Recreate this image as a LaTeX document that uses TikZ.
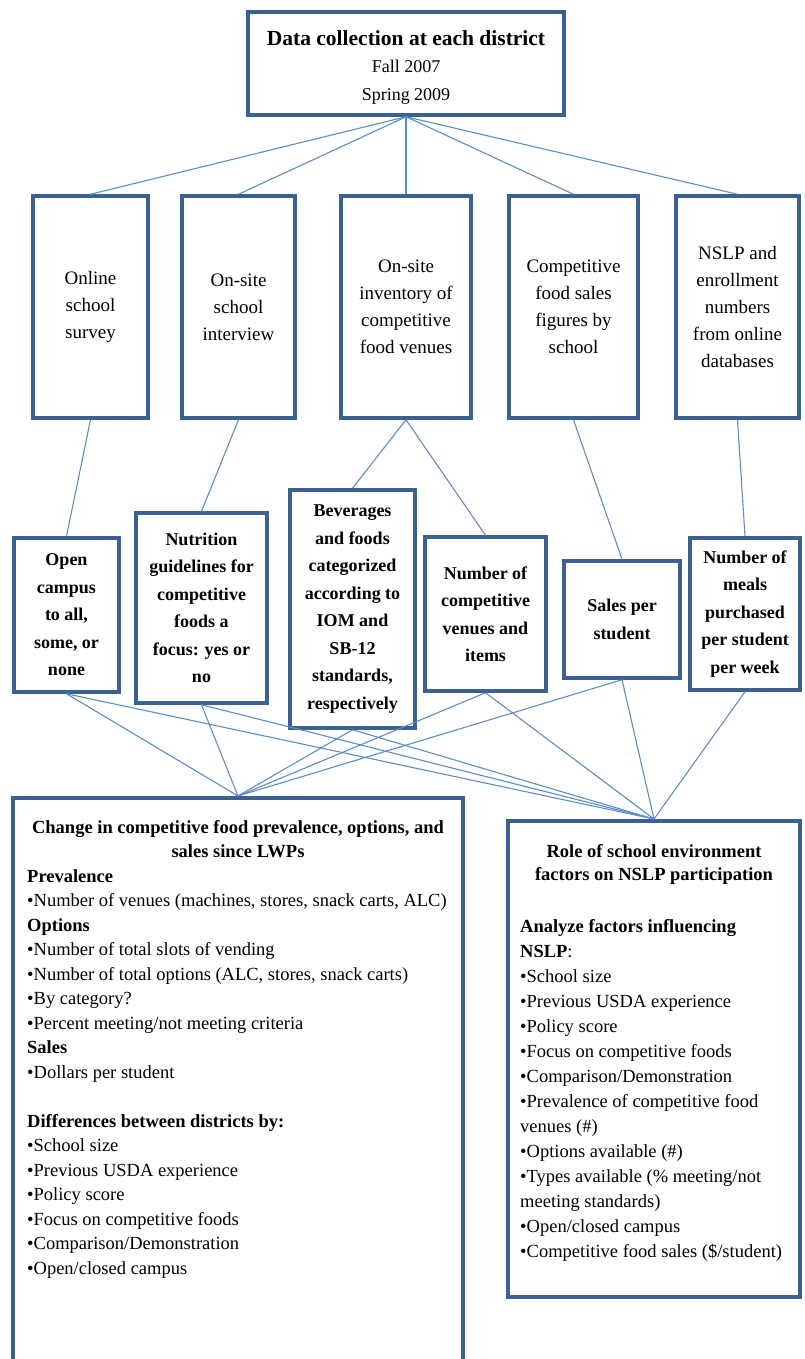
\documentclass[tikz,border=0pt]{standalone}
\usepackage{fontspec}
\setmainfont{Liberation Serif}
\usetikzlibrary{positioning}
\definecolor{boxline}{HTML}{3A6192}
\definecolor{linkblue}{HTML}{5B8DCB}

\begin{document}
\begin{tikzpicture}[x=1pt, y=-1pt,
  colbox/.style={draw=boxline, line width=3.5pt, fill=white, align=center, inner sep=2pt,
    font=\fontsize{19}{27}\selectfont},
  subbox/.style={colbox, font=\bfseries\fontsize{18}{27.5}\selectfont},
  bigbox/.style={draw=boxline, line width=3.5pt, fill=white},
  listtext/.style={align=left, inner sep=0pt, font=\fontsize{18.5}{24.5}\selectfont},
  link/.style={linkblue, line width=1.1pt}]
  \useasboundingbox (0,0) rectangle (804,1359);
  % top box
  \node[bigbox, minimum width=316, minimum height=103] (top) at (406,63.5) {};
  \node[align=center, inner sep=0pt, anchor=north, font=\fontsize{18}{27.5}\selectfont]
    (toptext) at (406,30)
    {{\bfseries\fontsize{21.5}{27.5}\selectfont Data collection at each district}\\
     Fall 2007\\Spring 2009};
  % data sources
  \node[colbox, minimum width=115, minimum height=222] (survey) at (90.5,307) {Online\\school\\survey};
  \node[colbox, minimum width=113, minimum height=222] (interview) at (238.5,307) {On-site\\school\\interview};
  \node[colbox, minimum width=130, minimum height=222] (inventory) at (406,307) {On-site\\inventory of\\competitive\\food venues};
  \node[colbox, minimum width=129, minimum height=222] (salesfig) at (573.5,307) {Competitive\\food sales\\figures by\\school};
  \node[colbox, minimum width=123, minimum height=222] (nslp) at (737.5,307) {NSLP and\\enrollment\\numbers\\from online\\databases};
  % measures
  \node[subbox, minimum width=105, minimum height=154] (campus) at (66.5,615) {Open\\campus\\to all,\\some, or\\none};
  \node[subbox, minimum width=131, minimum height=190] (guide) at (201.5,608) {Nutrition\\guidelines for\\competitive\\foods a\\focus: yes or\\no};
  \node[subbox, minimum width=125, minimum height=238] (categ) at (352.5,609) {Beverages\\and foods\\categorized\\according to\\IOM and\\SB-12\\standards,\\respectively};
  \node[subbox, minimum width=121, minimum height=154] (venues) at (485.5,614) {Number of\\competitive\\venues and\\items};
  \node[subbox, minimum width=116, minimum height=117] (persales) at (622,619.5) {Sales per\\student};
  \node[subbox, minimum width=110, minimum height=152] (meals) at (745,614) {Number of\\meals\\purchased\\per student\\per week};
  % analyses
  \node[bigbox, minimum width=450, minimum height=600, anchor=north] (change) at (238,796) {};
  \node[bigbox, minimum width=292, minimum height=476, anchor=north] (role) at (654,819) {};
  \node[listtext, align=center, font=\bfseries\fontsize{18.5}{24.5}\selectfont, anchor=north]
    (changehead) at (238,820) {Change in competitive food prevalence, options, and\\sales since LWPs};
  \node[listtext, anchor=north west] (changelist) at (27,869)
    {\textbf{Prevalence}\\
     •Number of venues (machines, stores, snack carts, ALC)\\
     \textbf{Options}\\
     •Number of total slots of vending\\
     •Number of total options (ALC, stores, snack carts)\\
     •By category?\\
     •Percent meeting/not meeting criteria\\
     \textbf{Sales}\\
     •Dollars per student\\[24.5pt]
     \textbf{Differences between districts by:}\\
     •School size\\
     •Previous USDA experience\\
     •Policy score\\
     •Focus on competitive foods\\
     •Comparison/Demonstration\\
     •Open/closed campus};
  \node[listtext, align=center, font=\bfseries\fontsize{18.5}{23}\selectfont, anchor=north]
    (rolehead) at (654,844) {Role of school environment\\factors on NSLP participation};
  \node[listtext, anchor=north west, font=\fontsize{18.5}{25}\selectfont] (rolelist) at (520,919)
    {\textbf{Analyze factors influencing}\\
     \textbf{NSLP}:\\
     •School size\\
     •Previous USDA experience\\
     •Policy score\\
     •Focus on competitive foods\\
     •Comparison/Demonstration\\
     •Prevalence of competitive food\\
     venues (\#)\\
     •Options available (\#)\\
     •Types available (\% meeting/not\\
     meeting standards)\\
     •Open/closed campus\\
     •Competitive food sales (\$/student)};
  % connectors
  \foreach \n in {survey,interview,inventory,salesfig,nslp}
    \draw[link] (top.south) -- (\n.north);
  \draw[link] (survey.south) -- (campus.north);
  \draw[link] (interview.south) -- (guide.north);
  \draw[link] (inventory.south) -- (categ.north);
  \draw[link] (inventory.south) -- (venues.north);
  \draw[link] (salesfig.south) -- (persales.north);
  \draw[link] (nslp.south) -- (meals.north);
  \foreach \n in {campus,guide,categ,venues,persales}
    \draw[link] (\n.south) -- (change.north);
  \foreach \n in {campus,guide,categ,venues,persales,meals}
    \draw[link] (\n.south) -- (role.north);
\end{tikzpicture}
\end{document}
